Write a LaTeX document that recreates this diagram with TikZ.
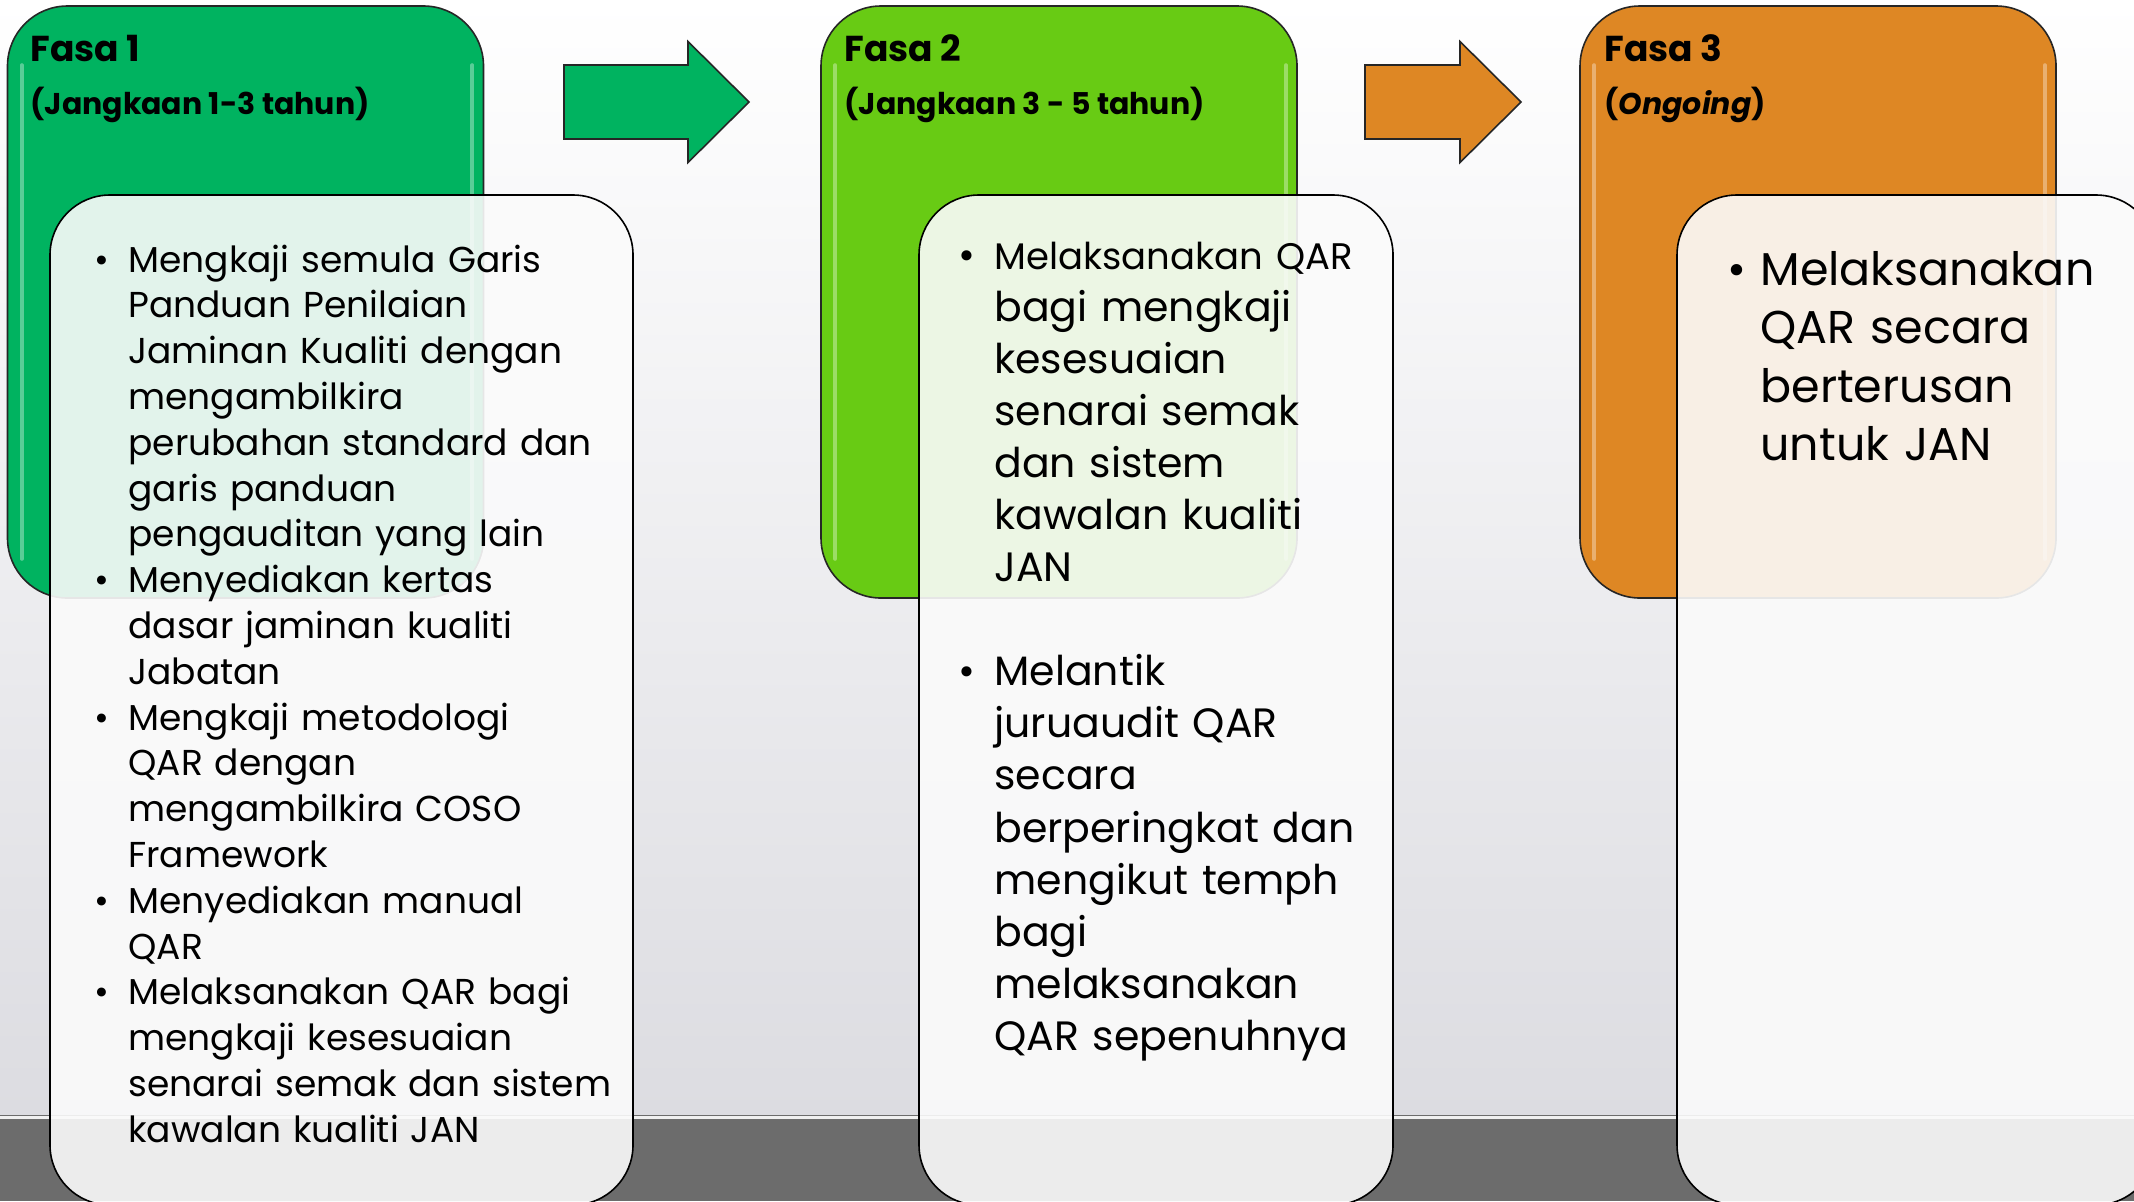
\documentclass[tikz,border=0pt]{standalone}
\usepackage{fontspec}
\setmainfont{Poppins}
\usepackage{xcolor}
\usetikzlibrary{calc,positioning,shapes}

\definecolor{fasaA}{RGB}{0,179,96}
\definecolor{fasaB}{RGB}{104,203,20}
\definecolor{fasaC}{RGB}{222,135,36}
\definecolor{wallbot}{RGB}{220,220,225}
\definecolor{floorgray}{RGB}{108,108,108}

\newcommand{\bitem}[2]{\noindent\hangindent=#1\hangafter=1\makebox[#1][l]{\textbullet}#2\par}

\tikzset{%
	phase/.style    = {draw=black!85, line width=0.8pt, rounded corners=30pt, minimum width=238pt, minimum height=296pt}, % coloured phase box
	panel/.style    = {draw=black, line width=0.8pt, fill=gray!3, fill opacity=0.9, rounded corners=30pt, minimum height=505pt}, % list panel
	title/.style    = {anchor=base west, inner sep=0pt, font=\bfseries\fontsize{18}{20}\selectfont},
	subtitle/.style = {anchor=base west, inner sep=0pt, font=\bfseries\fontsize{15}{18}\selectfont},
	points/.style   = {anchor=base west, inner sep=0pt, align=left},
	bigarrow/.style = {draw=black!85, line width=0.8pt, line join=miter},
	shine/.style    = {white, opacity=0.35, line width=2pt, line cap=round},
}

\begin{document}
\begin{tikzpicture}[x=0.5pt,y=-0.5pt]
	\useasboundingbox (0,0) rectangle (2134,1201);
	\clip (0,0) rectangle (2134,1201);
	% wall and floor
	\shade[top color=white, bottom color=wallbot] (0,0) rectangle (2134,1115);
	\fill[floorgray] (0,1115) rectangle (2134,1201);
	\draw[white!88!gray, line width=1.5pt] (0,1117) -- (2134,1117);

	% phase boxes
	\node [phase, fill=fasaA] (fasa1) at (245.5,302) {};
	\node [phase, fill=fasaB] (fasa2) at (1059,302) {};
	\node [phase, fill=fasaC] (fasa3) at (1818,302) {};
	\foreach \f in {fasa1,fasa2,fasa3} {
		\draw[shine] ($(\f.north west)+(15,60)$) -- ($(\f.south west)+(15,-40)$);
		\draw[shine] ($(\f.north east)+(-12,60)$) -- ($(\f.south east)+(-12,-40)$);
	}

	% arrows between phases
	\coordinate (tailA) at (564,102);
	\coordinate (tailB) at (1365,102);
	\draw[bigarrow, fill=fasaA] (tailA) -- ++(0,-37) -- ++(124,0) -- ++(0,-23.5) -- ++(61,60.5)
		-- ++(-61,60.5) -- ++(0,-23.5) -- ++(-124,0) -- cycle;
	\draw[bigarrow, fill=fasaC] (tailB) -- ++(0,-37) -- ++(95,0) -- ++(0,-23.5) -- ++(61,60.5)
		-- ++(-61,60.5) -- ++(0,-23.5) -- ++(-95,0) -- cycle;

	% titles
	\node [title] (t1) at (30,61) {Fasa 1};
	\node [subtitle] (s1) at (30,114) {(Jangkaan 1-3 tahun)};
	\node [title] (t2) at (844,61) {Fasa 2};
	\node [subtitle] (s2) at (844,114) {(Jangkaan 3 - 5 tahun)};
	\node [title] (t3) at (1604,61) {Fasa 3};
	\node [subtitle] (s3) at (1604,114) {(\textit{Ongoing})};

	% list panels
	\node [panel, minimum width=291.5pt] (p1) at (341.5,700) {};
	\node [panel, minimum width=237pt] (p2) at (1156,700) {};
	\node [panel, minimum width=239.5pt] (p3) at (1916.5,700) {};

	\node [points, text width=290pt, font=\fontsize{18}{22.9}\selectfont] (l1) at (94,272) {%
		\bitem{17pt}{Mengkaji semula Garis\newline Panduan Penilaian\newline Jaminan Kualiti dengan\newline mengambilkira\newline perubahan standard dan\newline garis panduan\newline pengauditan yang lain}
		\bitem{17pt}{Menyediakan kertas\newline dasar jaminan kualiti\newline Jabatan}
		\bitem{17pt}{Mengkaji metodologi\newline QAR dengan\newline mengambilkira COSO\newline Framework}
		\bitem{17pt}{Menyediakan manual\newline QAR}
		\bitem{17pt}{Melaksanakan QAR bagi\newline mengkaji kesesuaian\newline senarai semak dan sistem\newline kawalan kualiti JAN}};
	\node [points, text width=240pt, font=\fontsize{20.5}{26.05}\selectfont] (l2) at (958,269) {%
		\bitem{18pt}{{\fontsize{18.5}{26.05}\selectfont Melaksanakan QAR}\newline bagi mengkaji\newline kesesuaian\newline senarai semak\newline dan sistem\newline kawalan kualiti\newline JAN}\vspace{26pt}
		\bitem{18pt}{Melantik\newline juruaudit QAR\newline secara\newline berperingkat dan\newline mengikut temph\newline bagi\newline melaksanakan\newline QAR sepenuhnya}};
	\node [points, text width=240pt, font=\fontsize{23}{29.25}\selectfont] (l3) at (1727,285) {%
		\bitem{16.5pt}{Melaksanakan\newline QAR secara\newline berterusan\newline untuk JAN}};
\end{tikzpicture}
\end{document}
